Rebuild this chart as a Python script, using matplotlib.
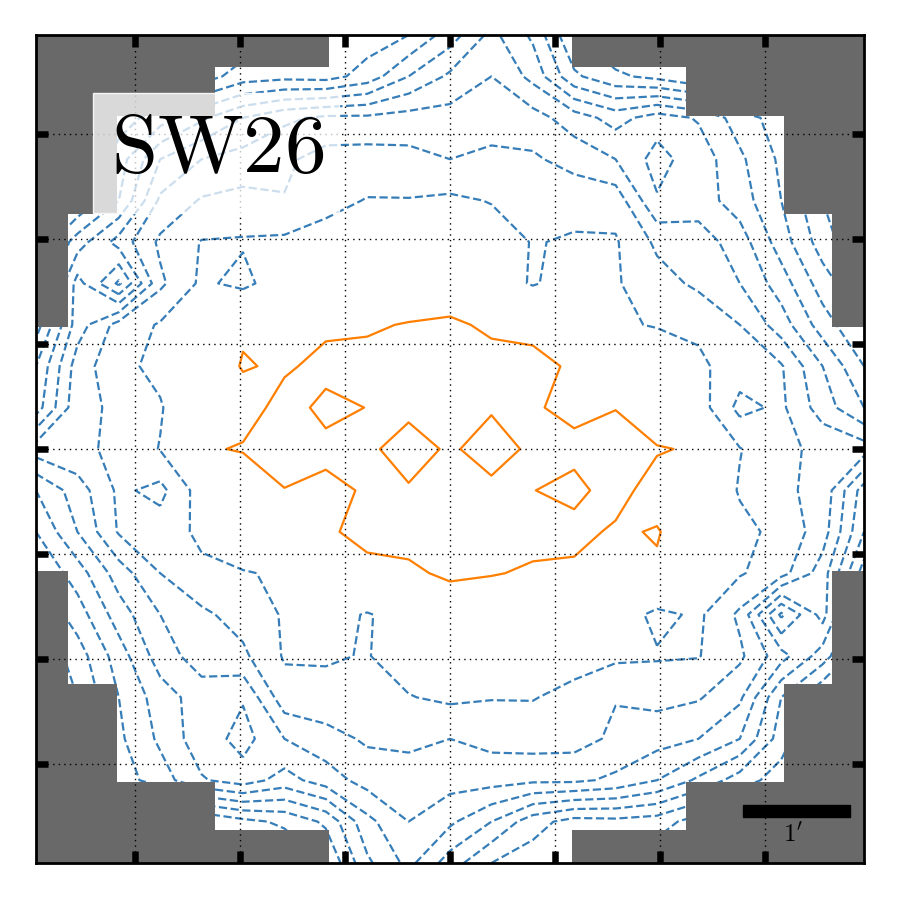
import numpy as np
import matplotlib.pyplot as plt
from matplotlib.colors import ListedColormap
from matplotlib.patches import Rectangle

plt.rcParams['mathtext.fontset'] = 'cm'

# map values, 21 x 21 nodes, rows from top to bottom
field = [
    [-9, -9, -9, -9, -9, -8.8, -8.5, -8.0, -7.5, -7.0, -5.5, -3.7, -5.2, -8.0, -9, -9, -9, -9, -9, -9, -9],
    [-9, -9, -9, -9, -8.5, -7.5, -7.3, -7.4, -6.6, -5.0, -3.8, -3.0, -4.3, -6.8, -7.8, -8.3, -9, -9, -9, -9, -9],
    [-9, -8.5, -7.5, -6.5, -5.2, -4.0, -3.2, -2.8, -2.8, -2.6, -2.6, -2.4, -2.6, -3.5, -4.4, -3.5, -4.1, -5.5, -6.5, -8, -9],
    [-9, -8.5, -6.5, -4.0, -3.0, -2.6, -2.2, -1.6, -1.55, -1.7, -2.0, -1.8, -1.85, -2.4, -3.0, -4.4, -3.4, -4.8, -6.2, -8, -9],
    [-9, -8, -6.0, -2.8, -1.9, -1.7, -1.95, -1.3, -0.95, -0.95, -0.8, -1.05, -1.4, -1.3, -1.4, -3.9, -3.5, -4.5, -6.0, -8, -9],
    [-8, -5.5, -3.6, -1.8, -0.95, -0.9, -0.8, -0.6, -0.3, -0.3, -0.3, -0.5, -1.05, -0.9, -0.9, -2.2, -2.5, -3.5, -5.5, -7.5, -9],
    [-8, -3.6, -6.2, -2.2, -0.8, -1.3, -0.3, 0.0, 0.1, 0.3, 0.4, -0.4, -1.1, -0.5, -0.9, -1.6, -2.2, -3.0, -4.5, -6.5, -8],
    [-7.5, -3.5, -1.6, -0.9, -0.3, 0.85, 0.5, 0.8, 0.9, 1.05, 1.15, 0.85, 0.8, 0.5, -0.9, -1.05, -1.2, -2.0, -3.5, -5.5, -7],
    [-6, -2.5, -1.3, -0.7, 0.2, 1.08, 0.85, 1.3, 1.25, 1.3, 1.3, 1.3, 1.2, 0.9, 0.3, -0.4, -0.8, -1.5, -1.9, -4, -6],
    [-5.5, -2.3, -1.8, -1.1, 0.2, 0.5, 1.4, 0.75, 1.02, 1.25, 1.3, 1.1, 1.1, 0.75, 0.98, 0.0, -0.5, -2.3, -1.8, -3.5, -5],
    [-2.5, -2.2, -1.8, -0.95, 0.85, 1.1, 1.3, 1.25, 1.2, 0.55, 1.15, 0.55, 1.2, 1.25, 1.3, 1.1, 0.85, -0.95, -1.8, -2.2, -2.5],
    [-5, -3.5, -1.8, -2.3, -0.5, 0.0, 0.98, 0.75, 1.1, 1.1, 1.3, 1.25, 1.02, 0.75, 1.4, 0.5, 0.2, -1.1, -1.8, -2.3, -5.5],
    [-6, -4, -1.9, -1.5, -0.8, -0.4, 0.3, 0.9, 1.2, 1.3, 1.3, 1.3, 1.25, 1.3, 0.85, 1.08, 0.2, -0.7, -1.3, -2.5, -6],
    [-7, -5.5, -3.5, -2.0, -1.2, -1.05, -0.9, 0.5, 0.8, 0.85, 1.15, 1.05, 0.9, 0.8, 0.5, 0.85, -0.3, -0.9, -1.6, -3.5, -7.5],
    [-8, -6.5, -4.5, -3.0, -2.2, -1.6, -0.9, -0.5, -1.1, -0.4, 0.4, 0.3, 0.1, 0.0, -0.3, -1.3, -0.8, -2.2, -6.2, -3.6, -8],
    [-9, -7.5, -5.5, -3.5, -2.5, -2.2, -0.9, -0.9, -1.05, -0.5, -0.3, -0.3, -0.3, -0.6, -0.8, -0.9, -0.95, -1.8, -3.6, -5.5, -8],
    [-9, -8, -6.0, -4.5, -3.5, -3.9, -1.4, -1.3, -1.4, -1.05, -0.8, -0.95, -0.95, -1.3, -1.95, -1.7, -1.9, -2.8, -6.0, -8, -9],
    [-9, -8, -6.2, -4.8, -3.4, -4.4, -3.0, -2.4, -1.85, -1.8, -2.0, -1.7, -1.55, -1.6, -2.2, -2.6, -3.0, -4.0, -6.5, -8.5, -9],
    [-9, -8, -6.5, -5.5, -4.1, -3.5, -4.4, -3.5, -2.6, -2.4, -2.6, -2.6, -2.8, -2.8, -3.2, -4.0, -5.2, -6.5, -7.5, -8.5, -9],
    [-9, -9, -9, -9, -9, -8.3, -7.8, -6.8, -4.3, -3.0, -3.8, -5.0, -6.6, -7.4, -7.3, -7.5, -8.5, -9, -9, -9, -9],
    [-9, -9, -9, -9, -9, -9, -9, -8.0, -5.2, -3.7, -5.5, -7.0, -7.5, -8.0, -8.5, -8.8, -9, -9, -9, -9, -9],
]
node_x = np.linspace(-25.5, 25.5, 21)   # map pixel units
node_y = np.linspace(25.5, -25.5, 21)

neg_levels = [-8, -7, -6, -5, -4, -3, -2, -1]
pos_levels = [1]

# masked map pixels: rows r0..r1-1 (and mirrored rows) keep columns c..50-c
npix = 51
mask_bands = [(0, 2, 18), (2, 5, 11), (5, 11, 5), (11, 18, 2)]

tick_pos = np.arange(-3, 4) * 6.4675
label = 'SW26'
bar_len = 6.61   # 1 arcmin


mask = np.zeros((npix, npix), bool)
for r0, r1, c in mask_bands:
    for r in range(r0, r1):
        for rr in (r, npix - 1 - r):
            mask[rr, :c] = True
            mask[rr, npix - c:] = True

fig = plt.figure(figsize=(9, 9), dpi=100)
ax = fig.add_axes([0.04, 0.0411, 0.92, 0.92])

Z = np.array(field)[::-1]
Y = node_y[::-1]
ax.contour(node_x, Y, Z, levels=neg_levels, colors='#377eb8',
           linestyles='--', linewidths=1.6, zorder=1)
ax.contour(node_x, Y, Z, levels=pos_levels, colors='#ff7f00',
           linestyles='-', linewidths=1.6, zorder=1)

ext = (-npix / 2, npix / 2, -npix / 2, npix / 2)
ax.imshow(np.ma.masked_where(~mask, mask), cmap=ListedColormap(['#696969']),
          extent=ext, origin='upper', interpolation='nearest', zorder=2)

ax.set_xlim(ext[0], ext[1])
ax.set_ylim(ext[2], ext[3])
ax.set_xticks(tick_pos)
ax.set_yticks(tick_pos)
ax.tick_params(direction='in', length=8.6, width=4.7, top=True, right=True,
               labelbottom=False, labelleft=False, color='k')
ax.set_axisbelow(False)
ax.grid(True, color='k', linestyle=(0, (1, 3)), linewidth=1)
for s in ax.spines.values():
    s.set_linewidth(2)

# label box
ax.add_patch(Rectangle((0.0688, 0.785), 0.2971, 0.1449, transform=ax.transAxes,
                       facecolor=(1, 1, 1, 0.75), edgecolor=(1, 1, 1, 0.9),
                       linewidth=1, zorder=4))
ax.text(0.0905, 0.834, r'$\mathrm{' + label + '}$', transform=ax.transAxes,
        fontsize=60, ha='left', va='baseline', zorder=5)

# scale bar
ax.add_patch(Rectangle((18.03, -22.65), bar_len, 0.72, color='k', zorder=4))
ax.text(18.03 + bar_len / 2 - 0.2, -23.75, r"$1'$", fontsize=18,
        ha='center', va='center', zorder=5)

fig.savefig('out.png', dpi=100)
